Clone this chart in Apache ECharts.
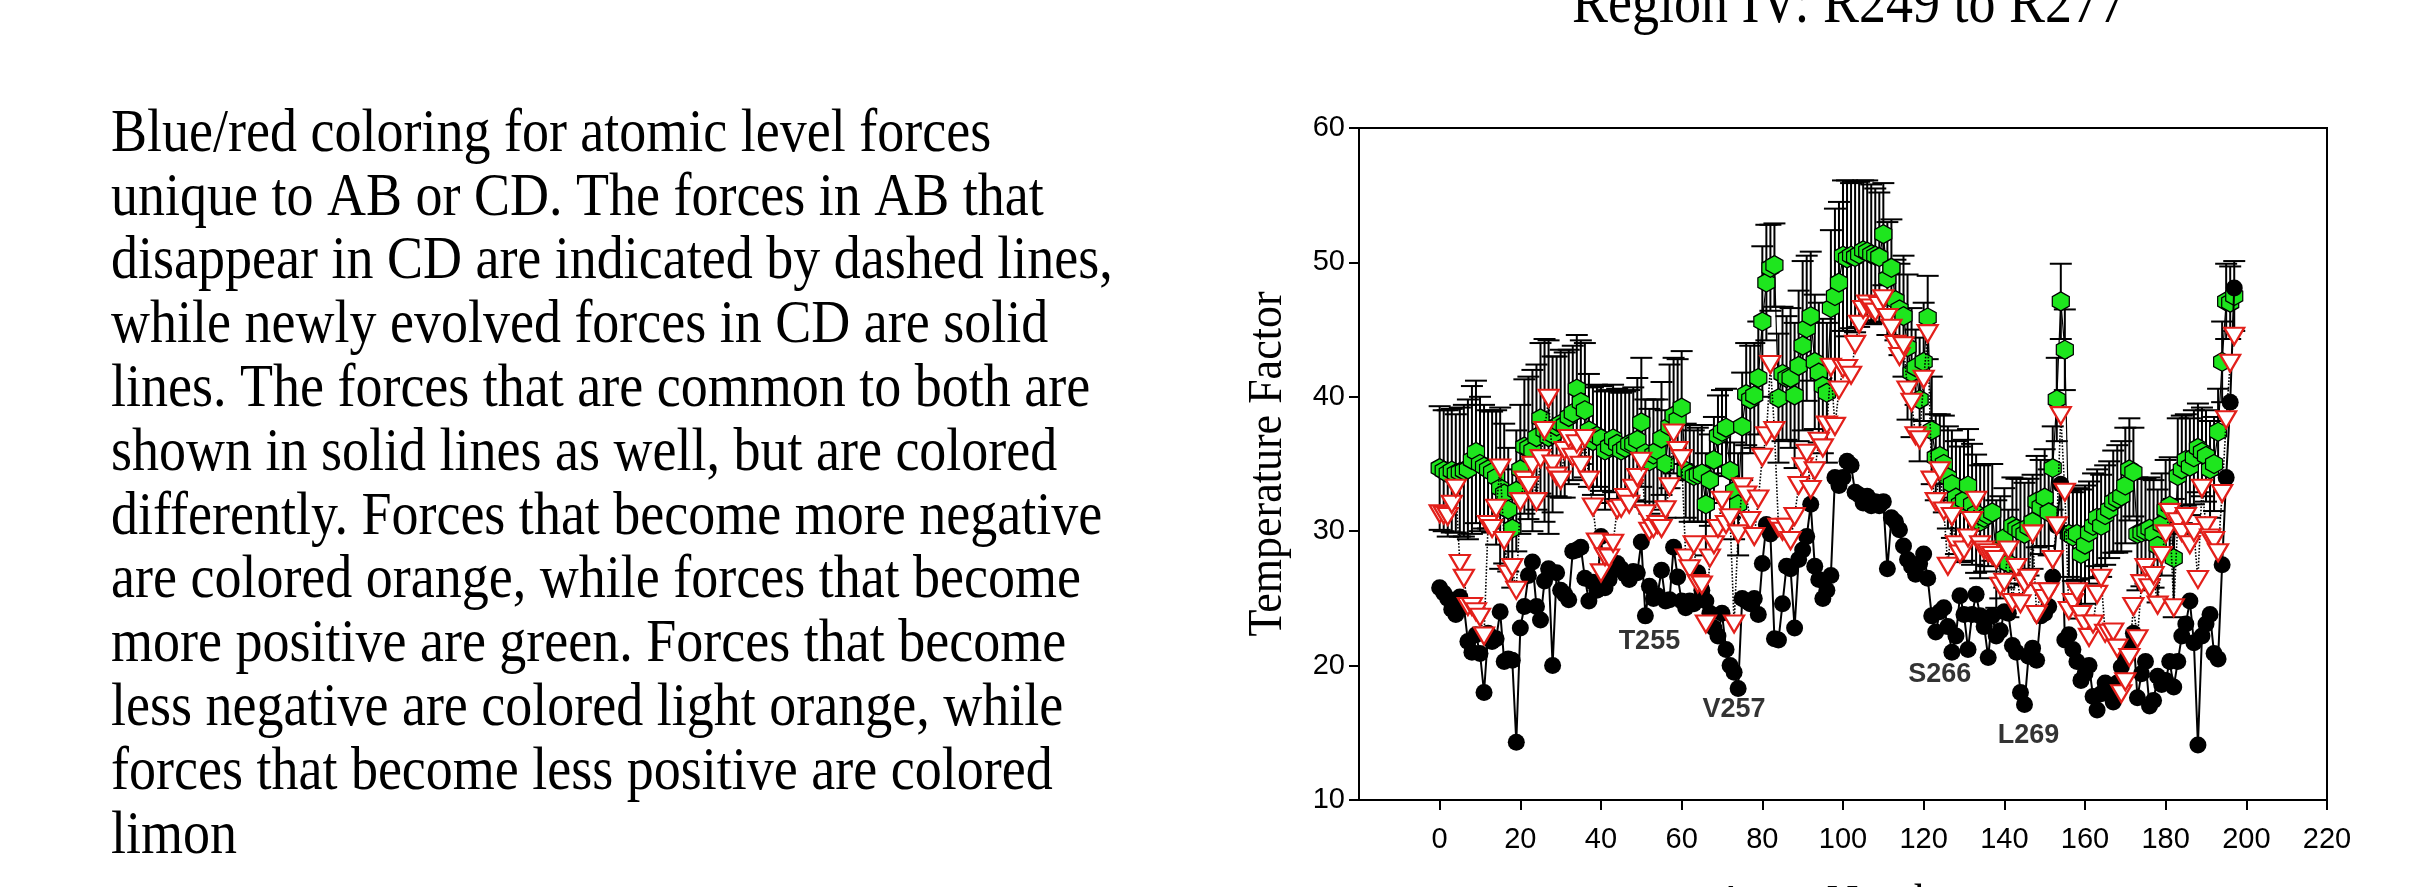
<!DOCTYPE html>
<html>
<head>
<meta charset="utf-8">
<script src="https://cdn.jsdelivr.net/npm/echarts@6/dist/echarts.min.js"></script>
<style>
html,body{margin:0;padding:0;background:#fff;}
#chart{width:2421px;height:887px;}
</style>
</head>
<body>
<div id="chart"></div>
<script>
// ---------- DATA ----------
const titleText = 'Region IV: R249 to R277';
const yAxisTitle = 'Temperature Factor';
const xAxisTitle = 'Atom Number';
const xTickValues = [0, 20, 40, 60, 80, 100, 120, 140, 160, 180, 200, 220];

const paragraphLines = [
  'Blue/red coloring for atomic level forces',
  'unique to AB or CD. The forces in AB that',
  'disappear in CD are indicated by dashed lines,',
  'while newly evolved forces in CD are solid',
  'lines. The forces that are common to both are',
  'shown in solid lines as well, but are colored',
  'differently. Forces that become more negative',
  'are colored orange, while forces that become',
  'more positive are green. Forces that become',
  'less negative are colored light orange, while',
  'forces that become less positive are colored',
  'limon'
];

// black circles (index 0..197)
const blackValues = [
  25.8,25.4,25.0,24.2,23.8,25.1,24.4,21.8,21.0,22.3,20.9,18.0,22.4,21.8,22.0,24.0,20.3,20.5,20.4,14.3,
  22.8,24.4,26.7,27.7,24.4,23.4,26.3,27.2,20.0,26.9,25.6,25.3,24.9,28.5,28.6,28.8,26.5,24.8,26.2,25.6,
  29.6,25.8,26.4,27.1,27.6,27.2,26.8,26.4,27.0,26.9,29.2,23.7,25.9,25.0,25.2,27.1,24.8,24.9,28.8,26.6,
  24.8,24.3,24.8,24.6,26.9,25.6,24.8,23.9,22.8,22.2,23.9,21.2,20.0,19.5,18.3,25.0,24.8,24.6,25.0,23.8,
  27.6,30.5,29.8,22.0,21.9,24.6,27.4,27.2,22.8,27.9,28.6,29.6,32.0,27.4,26.4,25.0,25.6,26.7,34.0,33.4,
  34.0,35.2,34.9,32.9,32.7,32.1,32.6,31.9,32.2,31.9,32.2,27.2,31.0,30.7,30.1,28.9,27.9,27.4,26.8,27.6,
  28.3,26.5,23.7,22.5,24.0,24.3,22.9,21.0,22.2,25.2,23.8,21.2,23.8,25.3,23.7,22.9,20.6,23.7,22.2,22.6,
  24.0,23.9,21.5,21.0,18.0,17.1,20.7,21.3,20.4,23.7,23.9,24.4,26.6,30.4,33.5,21.9,22.3,21.2,20.3,18.9,
  19.4,20.0,17.7,16.7,17.9,18.7,18.2,17.3,18.7,19.9,20.7,21.4,22.4,17.6,19.4,20.3,17.0,17.4,19.2,18.6,
  18.9,20.3,18.4,20.3,22.2,23.1,24.8,21.7,14.1,22.2,23.1,23.8,20.9,20.5,27.5,34.0,39.6,48.1
];

// red open down-triangles (index 0..197)
const redValues = [
  31.3,31.2,31.1,32.0,33.2,27.6,26.5,24.4,24.4,24.0,23.6,22.2,30.5,30.2,31.7,34.7,29.3,26.8,27.3,25.6,
  32.2,33.8,33.4,34.9,32.2,35.4,37.5,39.9,35.0,34.1,33.8,36.0,36.9,35.5,36.5,34.9,36.9,33.8,31.8,29.2,
  26.9,28.1,28.0,29.1,31.6,31.7,32.5,32.0,33.2,34.0,35.2,31.3,30.0,30.2,30.5,30.2,31.6,33.3,37.3,36.0,
  35.4,28.0,27.2,29.0,26.1,26.0,23.1,28.0,29.0,30.2,32.3,30.5,31.0,23.1,29.8,33.3,32.7,30.8,29.6,32.4,
  35.5,37.1,42.4,37.5,30.3,30.0,30.3,29.3,31.1,33.4,34.8,35.8,33.1,34.5,36.7,36.2,37.9,42.2,37.8,40.5,
  42.1,42.1,41.6,43.9,45.4,46.5,46.9,46.6,46.3,46.8,47.3,45.9,45.1,43.9,43.0,43.8,40.5,39.6,37.1,36.8,
  41.3,44.7,33.8,32.2,34.5,31.5,27.4,31.1,29.0,28.3,28.6,29.5,30.8,32.3,29.0,28.6,28.4,28.2,27.9,25.9,
  26.2,28.6,24.7,27.3,24.6,26.1,26.5,29.8,23.8,25.5,25.0,25.5,27.9,30.4,38.6,32.9,24.1,24.7,25.5,23.8,
  23.1,22.1,23.1,25.3,26.5,22.4,22.4,22.5,21.3,17.9,18.8,20.6,24.4,22.0,26.1,27.3,25.8,26.7,24.5,28.2,
  29.8,31.4,24.3,30.7,29.9,31.1,29.0,29.9,26.4,33.2,30.4,29.5,29.3,28.4,32.8,38.3,42.5,44.5
];

// green hexagons (index 0..197)
const greenValues = [
  34.7,34.5,34.3,34.5,34.3,34.4,34.5,34.6,35.3,35.9,35.0,34.8,34.6,34.4,34.0,33.2,32.8,31.6,30.2,33.0,
  34.6,36.3,36.2,36.0,37.0,38.4,37.5,37.0,37.2,37.8,38.0,37.9,38.5,38.8,40.6,39.6,39.0,37.5,36.7,37.1,
  36.9,36.0,36.3,36.9,36.5,36.0,36.2,36.5,36.5,36.8,38.1,35.8,35.2,35.7,36.0,36.9,35.0,37.8,38.6,38.3,
  39.2,34.5,34.3,34.1,34.2,34.3,32.0,33.8,35.3,37.1,37.4,37.7,34.5,33.0,32.0,37.8,40.2,39.8,40.1,41.4,
  45.6,48.5,49.6,49.8,39.9,41.7,41.4,41.4,40.1,42.3,43.8,45.1,46.0,42.6,41.8,40.8,40.3,46.6,47.5,48.5,
  50.5,50.3,50.5,50.4,50.6,50.9,50.8,50.6,50.5,50.4,52.1,48.8,49.6,47.2,46.5,46.0,43.7,41.8,42.2,39.8,
  42.6,45.9,37.5,35.5,35.6,35.0,34.0,33.5,32.5,32.0,32.3,33.4,32.0,31.3,30.7,31.0,31.2,31.4,28.3,28.8,
  29.5,27.6,30.4,30.2,30.0,29.8,30.3,30.7,32.2,31.8,32.5,31.4,34.7,39.8,47.1,43.5,29.8,29.6,29.8,28.3,
  29.0,29.9,30.4,31.0,30.4,31.2,31.6,32.2,32.4,32.6,33.4,34.6,34.4,29.8,29.9,30.0,30.2,29.8,28.9,30.5,
  31.6,31.9,28.0,34.1,34.6,35.3,34.8,35.5,36.2,35.9,35.6,34.6,35.0,37.4,42.6,47.1,47.0,47.5
];

// green error bar half-lengths (index 0..197)
const greenErrors = [
  4.6,4.5,4.7,4.6,4.4,4.8,4.9,5.2,5.5,5.3,5.0,4.6,4.4,4.5,5.0,6.0,5.2,4.6,4.4,4.5,
  4.8,5.0,5.3,6.0,5.4,5.6,6.8,7.2,5.8,5.2,5.5,5.4,5.0,5.0,4.0,4.6,5.0,4.2,4.0,3.8,
  3.9,4.4,4.2,4.0,4.1,4.3,4.2,4.0,4.2,4.6,4.8,4.0,3.9,4.1,3.8,4.2,4.0,4.6,4.3,4.5,
  4.2,3.5,3.6,3.4,3.5,3.6,3.8,3.4,3.2,3.0,3.1,2.9,3.5,3.6,3.8,4.0,3.8,4.0,3.9,4.2,
  5.6,4.3,3.2,3.1,4.8,5.0,4.6,5.2,5.4,5.6,6.3,5.4,4.8,5.0,5.2,5.0,5.2,5.8,6.5,6.0,
  5.6,5.8,5.4,5.6,5.4,5.2,5.3,5.2,5.0,4.8,3.8,4.2,3.6,3.0,3.4,4.5,5.4,4.8,2.8,4.6,
  4.4,3.1,4.0,3.2,3.1,3.6,3.8,4.0,4.2,4.3,4.5,4.2,4.5,4.4,4.2,4.0,3.8,3.6,4.0,3.8,
  3.7,4.0,3.6,3.7,3.9,3.8,3.6,3.5,3.4,3.5,3.6,3.2,3.1,3.1,2.8,3.0,3.2,3.3,3.4,4.8,
  4.4,3.8,3.9,3.6,3.8,3.7,3.6,3.8,4.0,4.1,4.3,3.8,3.3,4.2,4.0,3.9,3.8,4.0,4.2,3.8,
  3.7,3.6,4.4,4.3,4.0,3.4,3.6,3.5,3.3,3.3,3.4,3.6,3.5,3.2,3.0,2.8,2.7,2.6
];

const annotationText = ['T255', 'V257', 'S266', 'L269'];
const annotationX = [52, 73, 124, 146];
const annotationY = [21.8, 16.7, 19.3, 14.8];

// ---------- BUILD ----------
const blackData = blackValues.map((v, i) => [i, v]);
const redData = redValues.map((v, i) => [i, v]);
const greenData = greenValues.map((v, i) => [i, v]);
const errData = greenValues.map((v, i) => [i, v, greenErrors[i]]);
const annData = annotationText.map((t, k) => ({ name: t, value: [annotationX[k], annotationY[k]] }));

const HEX = 'path://M0,-10 L8.66,-5 L8.66,5 L0,10 L-8.66,5 L-8.66,-5 Z';
const TRI = 'path://M0,0 L20,0 L10,17 Z';

const graphics = [];
graphics.push({
  type: 'text', x: 1849, y: 6, scaleY: 1.12,
  style: { text: titleText, font: '54px "Liberation Serif"', fill: '#000', align: 'center', verticalAlign: 'middle' }
});
paragraphLines.forEach((line, k) => {
  graphics.push({
    type: 'text', x: 111, y: 135 + 63.8 * k, scaleY: 1.12,
    style: { text: line, font: '54px "Liberation Serif"', fill: '#000', align: 'left', verticalAlign: 'middle' }
  });
});
graphics.push({
  type: 'text', x: 1269, y: 464, rotation: Math.PI / 2, scaleY: 1.08,
  style: { text: yAxisTitle, font: '44px "Liberation Serif"', fill: '#000', align: 'center', verticalAlign: 'middle' }
});
graphics.push({
  type: 'text', x: 1843, y: 903,
  style: { text: xAxisTitle, font: '44px "Liberation Serif"', fill: '#000', align: 'center', verticalAlign: 'middle' }
});

const chart = echarts.init(document.getElementById('chart'), null, { renderer: 'canvas' });
chart.setOption({
  animation: false,
  backgroundColor: '#fff',
  graphic: graphics,
  grid: {
    left: 1359, top: 128, width: 968, height: 672,
    show: true, borderColor: '#000', borderWidth: 2, backgroundColor: 'transparent'
  },
  xAxis: {
    type: 'value', min: -20, max: 220, interval: 20,
    axisLine: { show: true, onZero: false, lineStyle: { color: '#000', width: 2 } },
    axisTick: { show: true, inside: false, length: 10, lineStyle: { color: '#000', width: 2 }, customValues: xTickValues },
    axisLabel: { show: true, margin: 25, color: '#000', fontSize: 29, fontFamily: 'Liberation Sans', customValues: xTickValues },
    splitLine: { show: false }
  },
  yAxis: {
    type: 'value', min: 10, max: 60, interval: 10,
    axisLine: { show: true, onZero: false, lineStyle: { color: '#000', width: 2 } },
    axisTick: { show: true, inside: false, length: 10, lineStyle: { color: '#000', width: 2 } },
    axisLabel: { show: true, margin: 14, color: '#000', fontSize: 29, fontFamily: 'Liberation Sans' },
    splitLine: { show: false }
  },
  series: [
    {
      type: 'custom', name: 'errorbars', z: 2,
      data: errData,
      encode: { x: 0, y: 1 },
      renderItem: function (params, api) {
        const x = api.value(0), y = api.value(1), e = api.value(2);
        const top = api.coord([x, y + e]);
        const bot = api.coord([x, y - e]);
        const hw = 11;
        const st = { stroke: '#000', lineWidth: 2 };
        return {
          type: 'group',
          children: [
            { type: 'line', shape: { x1: top[0], y1: top[1], x2: bot[0], y2: bot[1] }, style: st },
            { type: 'line', shape: { x1: top[0] - hw, y1: top[1], x2: top[0] + hw, y2: top[1] }, style: st },
            { type: 'line', shape: { x1: bot[0] - hw, y1: bot[1], x2: bot[0] + hw, y2: bot[1] }, style: st }
          ]
        };
      }
    },
    {
      type: 'line', name: 'green', z: 3,
      data: greenData,
      showAllSymbol: true,
      symbol: HEX, symbolSize: [17, 19],
      itemStyle: { color: '#1ee61e', borderColor: '#000', borderWidth: 1.3 },
      lineStyle: { color: '#000', width: 1.2 }
    },
    {
      type: 'line', name: 'black', z: 4,
      data: blackData,
      showAllSymbol: true,
      symbol: 'circle', symbolSize: 17,
      itemStyle: { color: '#000', borderColor: '#000', borderWidth: 0 },
      lineStyle: { color: '#000', width: 2 }
    },
    {
      type: 'line', name: 'red', z: 5,
      data: redData,
      showAllSymbol: true,
      symbol: TRI, symbolSize: [20, 17],
      itemStyle: { color: '#fff', borderColor: '#e3201b', borderWidth: 2.2 },
      lineStyle: { color: '#000', width: 1.6, type: 'dotted' }
    },
    {
      type: 'scatter', name: 'labels', z: 6,
      data: annData,
      symbolSize: 0,
      silent: true,
      label: {
        show: true, position: 'inside', formatter: '{b}',
        color: '#000', fontSize: 27, fontWeight: 'bold', fontFamily: 'Liberation Sans'
      }
    }
  ]
});
</script>
</body>
</html>
